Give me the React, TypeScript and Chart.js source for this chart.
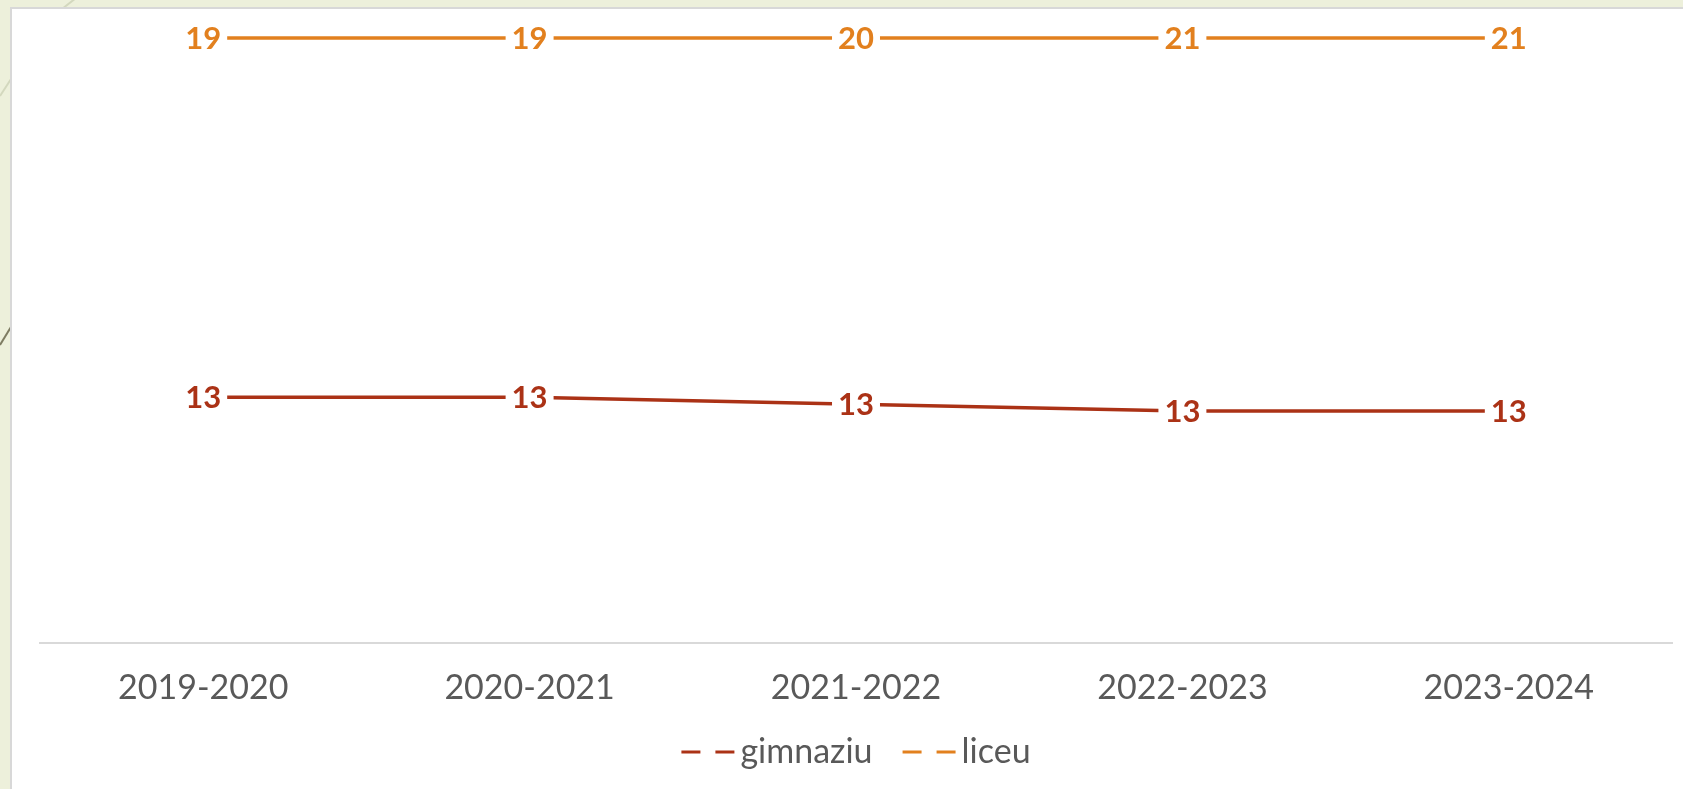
import React, { useEffect, useRef } from 'react';
import { Chart, registerables } from 'chart.js';

Chart.register(...registerables);

// ---- data ----
const categories: string[] = ['2019-2020', '2020-2021', '2021-2022', '2022-2023', '2023-2024'];
const gimnaziu: number[] = [13.25, 13.25, 13.16, 13.07, 13.07];
const liceu: number[] = [19, 19, 20, 21, 21];
const seriesNames: string[] = ['gimnaziu', 'liceu'];
const yMin = 10;
const yMax = 18;

// ---- style ----
const RED = '#AB3216';
const ORANGE = '#E2801E';
const GRAY_TEXT = '#595959';
const FONT = 'Lato, "Open Sans", "DejaVu Sans", sans-serif';

const valueLabelPlugin = {
  id: 'valueLabels',
  afterDatasetsDraw(chart: any) {
    const ctx = chart.ctx;
    const size = 31;
    chart.data.datasets.forEach((ds: any, i: number) => {
      const meta = chart.getDatasetMeta(i);
      meta.data.forEach((pt: any, j: number) => {
        const text = String(Math.round(ds.rawValues[j]));
        ctx.save();
        ctx.font = `bold ${size}px ${FONT}`;
        const w = ctx.measureText(text).width;
        ctx.fillStyle = '#ffffff';
        ctx.fillRect(pt.x - w / 2 - 6, pt.y - 15, w + 12, 30);
        ctx.fillStyle = ds.borderColor;
        ctx.textAlign = 'center';
        ctx.textBaseline = 'alphabetic';
        ctx.fillText(text, pt.x, pt.y + size * 0.36);
        ctx.restore();
      });
    });
  },
};

const dashLegendPlugin = {
  id: 'dashLegend',
  afterDraw(chart: any) {
    const ctx = chart.ctx;
    const area = chart.chartArea;
    ctx.save();
    ctx.font = `34px ${FONT}`;
    const markerW = 54;
    const textGap = 5;
    const itemGap = 30;
    const items = chart.data.datasets.map((ds: any) => ({
      label: ds.label,
      color: ds.borderColor,
      w: markerW + textGap + ctx.measureText(ds.label).width,
    }));
    const total = items.reduce((s: number, it: any) => s + it.w, 0) + itemGap * (items.length - 1);
    let x = (area.left + area.right) / 2 - total / 2;
    const lineY = chart.height - 37;
    const textY = chart.height - 26;
    items.forEach((it: any) => {
      ctx.strokeStyle = it.color;
      ctx.lineWidth = 3;
      ctx.setLineDash([19, 15]);
      ctx.beginPath();
      ctx.moveTo(x, lineY);
      ctx.lineTo(x + markerW, lineY);
      ctx.stroke();
      ctx.setLineDash([]);
      ctx.fillStyle = GRAY_TEXT;
      ctx.textAlign = 'left';
      ctx.textBaseline = 'alphabetic';
      ctx.fillText(it.label, x + markerW + textGap, textY);
      x += it.w + itemGap;
    });
    ctx.restore();
  },
};

function Deco({ x1, y1, x2, y2, color, w }: { x1: number; y1: number; x2: number; y2: number; color: string; w: number }) {
  const dx = x2 - x1;
  const dy = y2 - y1;
  const len = Math.sqrt(dx * dx + dy * dy);
  const ang = (Math.atan2(dy, dx) * 180) / Math.PI;
  return (
    <div
      style={{
        position: 'absolute',
        left: x1,
        top: y1 - w / 2,
        width: len,
        height: w,
        background: color,
        transform: `rotate(${ang}deg)`,
        transformOrigin: `0 ${w / 2}px`,
      }}
    />
  );
}

export default function App() {
  const canvasRef = useRef<HTMLCanvasElement | null>(null);

  useEffect(() => {
    if (!canvasRef.current) return;
    const chart = new Chart(canvasRef.current, {
      type: 'line',
      data: {
        labels: categories,
        datasets: [
          {
            label: seriesNames[0],
            data: gimnaziu.map((v) => Math.min(v, yMax)),
            rawValues: gimnaziu,
            borderColor: RED,
            backgroundColor: RED,
            borderWidth: 3.5,
            pointRadius: 0,
            tension: 0,
            clip: false,
          } as any,
          {
            label: seriesNames[1],
            data: liceu.map((v) => Math.min(v, yMax)),
            rawValues: liceu,
            borderColor: ORANGE,
            backgroundColor: ORANGE,
            borderWidth: 3.5,
            pointRadius: 0,
            tension: 0,
            clip: false,
          } as any,
        ],
      },
      options: {
        responsive: false,
        animation: false,
        layout: { padding: { left: 40, right: 11, top: 38, bottom: 57 } },
        plugins: {
          legend: { display: false },
          tooltip: { enabled: false },
        },
        scales: {
          x: {
            offset: true,
            grid: { display: false, drawTicks: false },
            border: { display: true, color: '#D9D9D9', width: 2 },
            ticks: {
              color: GRAY_TEXT,
              font: { family: FONT, size: 34 },
              padding: 24,
              maxRotation: 0,
              autoSkip: false,
            },
          },
          y: { display: false, min: yMin, max: yMax },
        },
      },
      plugins: [valueLabelPlugin, dashLegendPlugin],
    });
    return () => chart.destroy();
  }, []);

  return (
    <div style={{ position: 'fixed', left: 0, top: 0, width: 1683, height: 789, background: '#EDF0DB', overflow: 'hidden' }}>
      <Deco x1={62} y1={9} x2={76} y2={-2} color="#D3D8BE" w={2} />
      <Deco x1={0} y1={96} x2={11} y2={79} color="#D3D8BE" w={2} />
      <Deco x1={0} y1={345} x2={11} y2={327} color="#7E7C62" w={2} />
      <div
        style={{
          position: 'absolute',
          left: 10,
          top: 7,
          width: 1673,
          height: 782,
          background: '#ffffff',
          borderLeft: '2px solid #D8D8D8',
          borderTop: '2px solid #D8D8D8',
          boxSizing: 'border-box',
        }}
      />
      <canvas ref={canvasRef} width={1683} height={789} style={{ position: 'absolute', left: 0, top: 0, width: 1683, height: 789, display: 'block' }} />
    </div>
  );
}
